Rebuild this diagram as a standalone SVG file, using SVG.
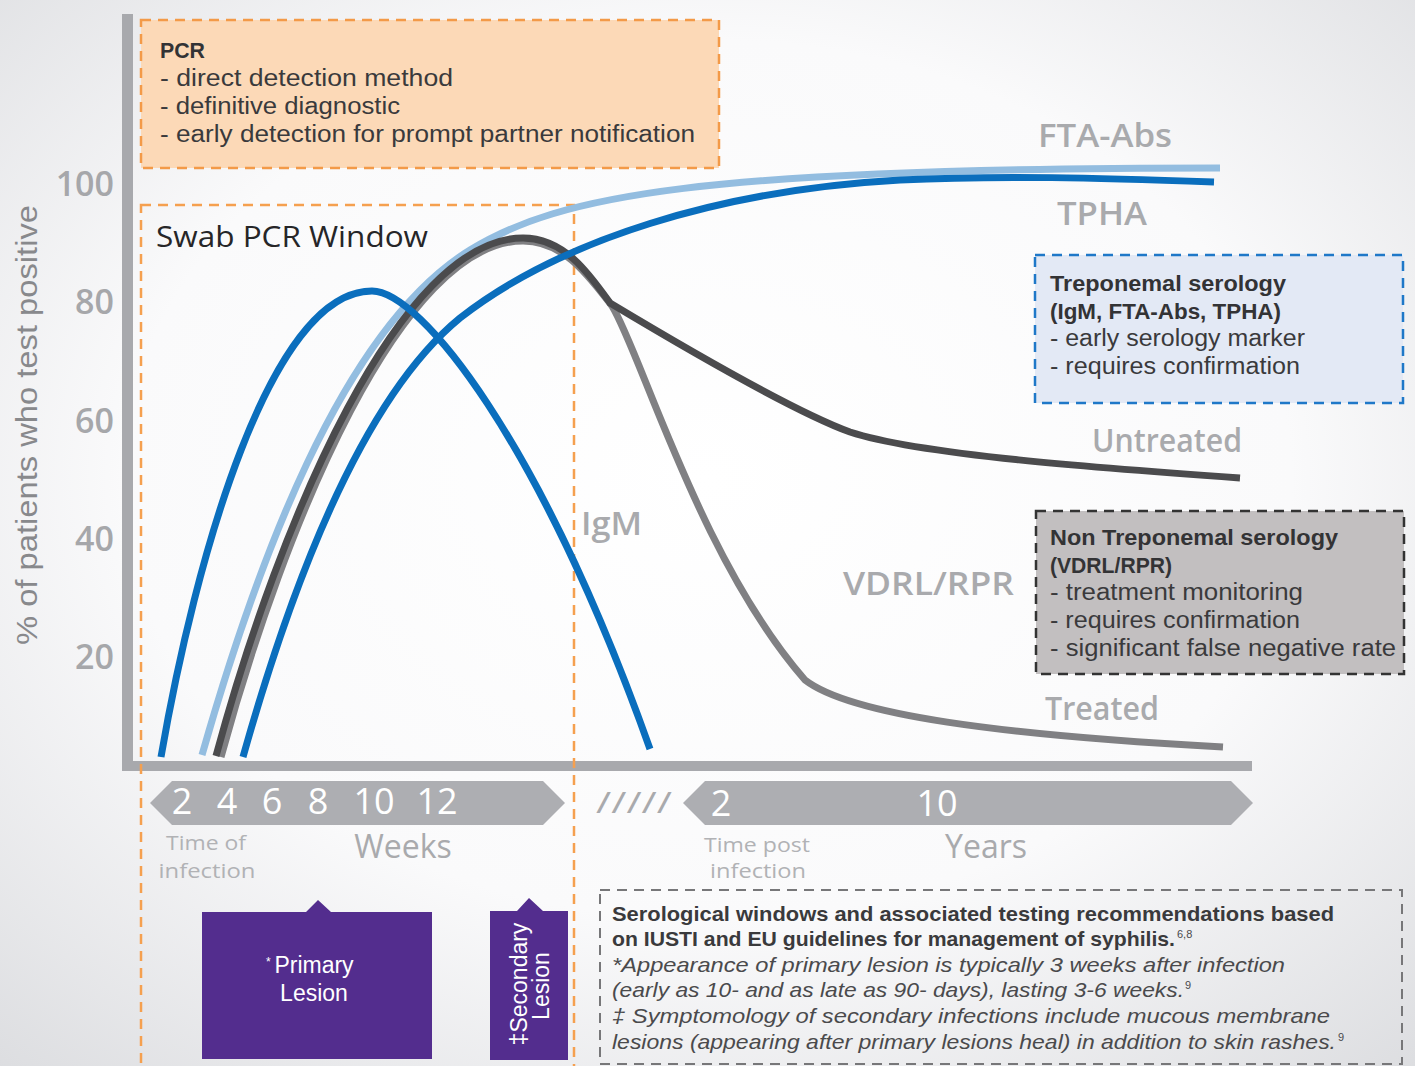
<svg xmlns="http://www.w3.org/2000/svg" width="1415" height="1066" viewBox="0 0 1415 1066">
<defs>
<radialGradient id="bg" cx="0.5" cy="0.45" r="0.75">
<stop offset="0" stop-color="#ffffff"/>
<stop offset="0.55" stop-color="#fafafb"/>
<stop offset="1" stop-color="#dcdde0"/>
</radialGradient>
<style>
.ax{fill:#a8a9ad}
.tick{font-family:'Open Sans','Liberation Sans',sans-serif;font-weight:600;font-size:34px;fill:#a6a7aa;text-anchor:end}
.lbl{font-family:'Open Sans','Liberation Sans',sans-serif;font-weight:600;font-size:33px;fill:#a9aaad}
.bx{font-family:'Liberation Sans','Open Sans',sans-serif;font-size:23px;fill:#3a3a3c}
.bxb{font-family:'Liberation Sans','Open Sans',sans-serif;font-size:22px;font-weight:bold;fill:#333335}
.wk{font-family:'Open Sans','Liberation Sans',sans-serif;font-size:36px;fill:#ffffff;text-anchor:middle}
.sub{font-family:'Open Sans','Liberation Sans',sans-serif;font-size:20px;fill:#b1b2b5;text-anchor:middle}
.big{font-family:'Open Sans','Liberation Sans',sans-serif;font-size:32px;fill:#a9aaad;text-anchor:middle}
.les{font-family:'Liberation Sans','Open Sans',sans-serif;font-size:23px;fill:#ffffff;text-anchor:middle}
.nt{font-family:'Liberation Sans','Open Sans',sans-serif;font-size:21px;fill:#3a3a3c}
.nti{font-family:'Liberation Sans','Open Sans',sans-serif;font-size:21px;font-style:italic;fill:#4a4a4c}
.sup{font-family:'Liberation Sans',sans-serif;font-size:11px;fill:#4a4a4c}
.crv{fill:none;stroke-width:7}
.odash{fill:none;stroke:#f5a04f;stroke-width:2.5;stroke-dasharray:10 7}
.purple{fill:#532d8e}
</style>
</defs>
<rect width="1415" height="1066" fill="url(#bg)"/>

<g id="axes">
<rect class="ax" x="122" y="14" width="11" height="757"/>
<rect class="ax" x="122" y="761" width="1130" height="10"/>
<text class="tick" x="114" y="196">100</text>
<text class="tick" x="114" y="314">80</text>
<text class="tick" x="114" y="433">60</text>
<text class="tick" x="114" y="551">40</text>
<text class="tick" x="114" y="669">20</text>
<text x="37" y="425" transform="rotate(-90 37 425)" text-anchor="middle" font-family="'Liberation Sans','Open Sans',sans-serif" font-size="29" fill="#88898c" textLength="440" lengthAdjust="spacingAndGlyphs">% of patients who test positive</text>
</g>

<g id="pcr-box">
<rect x="141" y="20" width="578" height="148" fill="#fcd9b7" stroke="#f39a48" stroke-width="2.5" stroke-dasharray="10 7"/>
<text class="bxb" x="160" y="58" textLength="45" lengthAdjust="spacingAndGlyphs">PCR</text>
<text class="bx" x="160" y="86" textLength="293" lengthAdjust="spacingAndGlyphs">- direct detection method</text>
<text class="bx" x="160" y="114" textLength="240" lengthAdjust="spacingAndGlyphs">- definitive diagnostic</text>
<text class="bx" x="160" y="142" textLength="535" lengthAdjust="spacingAndGlyphs">- early detection for prompt partner notification</text>
</g>

<g id="swab-window">
<rect x="141" y="205" width="433" height="880" class="odash"/>
<text x="156" y="247" font-family="'Open Sans','Liberation Sans',sans-serif" font-size="29" font-weight="500" fill="#262628" textLength="272" lengthAdjust="spacingAndGlyphs">Swab PCR Window</text>
</g>

<g id="curves">
<path class="crv" stroke="#93bde0" stroke-width="8" d="M202,755 C255,570 340,330 470,250 C560,195 700,168 1220,168"/>
<path class="crv" stroke="#808083" d="M221,757 C285,522 402,241 523,241 C565,241 590,278 612,306 C640,350 700,560 805,680 C850,715 1000,735 1223,747"/>
<path class="crv" stroke="#4b4b4d" stroke-width="5" d="M216,756 C280,520 400,238 523,238 C565,238 590,275 610,303 C680,345 790,410 850,432 C920,455 1100,468 1240,478"/>
<path class="crv" stroke="#0a6ebd" d="M161,757 C195,560 270,291 372,291 C420,291 540,440 650,749"/>
<path class="crv" stroke="#0a6ebd" d="M243,757 C290,590 360,400 460,318 C560,240 720,190 900,180 C1000,175 1100,178 1214,182"/>
</g>

<g id="curve-labels">
<text class="lbl" x="1038" y="147" textLength="134" lengthAdjust="spacingAndGlyphs">FTA-Abs</text>
<text class="lbl" x="1057" y="225" textLength="90" lengthAdjust="spacingAndGlyphs">TPHA</text>
<text class="lbl" x="1092" y="452" font-size="30" textLength="150" lengthAdjust="spacingAndGlyphs">Untreated</text>
<text class="lbl" x="581" y="535" textLength="61" lengthAdjust="spacingAndGlyphs">IgM</text>
<text class="lbl" x="843" y="595" textLength="171" lengthAdjust="spacingAndGlyphs">VDRL/RPR</text>
<text class="lbl" x="1045" y="720" font-size="30" textLength="114" lengthAdjust="spacingAndGlyphs">Treated</text>
</g>

<g id="treponemal-box">
<rect x="1035" y="255" width="368" height="148" fill="#e3e9f5" stroke="#1f78c8" stroke-width="2.5" stroke-dasharray="10 7"/>
<text class="bxb" x="1050" y="291" textLength="236" lengthAdjust="spacingAndGlyphs">Treponemal serology</text>
<text class="bxb" x="1050" y="319" textLength="231" lengthAdjust="spacingAndGlyphs">(IgM, FTA-Abs, TPHA)</text>
<text class="bx" x="1050" y="346" textLength="255" lengthAdjust="spacingAndGlyphs">- early serology marker</text>
<text class="bx" x="1050" y="374" textLength="250" lengthAdjust="spacingAndGlyphs">- requires confirmation</text>
</g>

<g id="non-treponemal-box">
<rect x="1036" y="511" width="368" height="163" fill="#c2bfc0" stroke="#333333" stroke-width="2.5" stroke-dasharray="10 7"/>
<text class="bxb" x="1050" y="545" textLength="288" lengthAdjust="spacingAndGlyphs">Non Treponemal serology</text>
<text class="bxb" x="1050" y="573" textLength="122" lengthAdjust="spacingAndGlyphs">(VDRL/RPR)</text>
<text class="bx" x="1050" y="600" textLength="253" lengthAdjust="spacingAndGlyphs">- treatment monitoring</text>
<text class="bx" x="1050" y="628" textLength="250" lengthAdjust="spacingAndGlyphs">- requires confirmation</text>
<text class="bx" x="1050" y="656" textLength="346" lengthAdjust="spacingAndGlyphs">- significant false negative rate</text>
</g>

<g id="weeks-timeline">
<polygon fill="#adaeb2" points="150,803 172,781 543,781 565,803 543,825 172,825"/>
<text class="wk" x="182" y="814">2</text>
<text class="wk" x="227" y="814">4</text>
<text class="wk" x="272" y="814">6</text>
<text class="wk" x="318" y="814">8</text>
<text class="wk" x="374" y="814">10</text>
<text class="wk" x="437" y="814">12</text>
<text class="sub" x="206" y="850" textLength="80" lengthAdjust="spacingAndGlyphs">Time of</text>
<text class="sub" x="207" y="878" textLength="97" lengthAdjust="spacingAndGlyphs">infection</text>
<text class="big" x="403" y="858">Weeks</text>
</g>

<g id="years-timeline">
<text x="596" y="813" font-family="'Open Sans','Liberation Sans',sans-serif" font-size="30" fill="#a9aaad" textLength="76" lengthAdjust="spacingAndGlyphs">/////</text>
<polygon fill="#adaeb2" points="683,803 705,781 1231,781 1253,803 1231,825 705,825"/>
<text class="wk" x="721" y="816">2</text>
<text class="wk" x="937" y="816">10</text>
<text class="sub" x="757" y="852" textLength="106" lengthAdjust="spacingAndGlyphs">Time post</text>
<text class="sub" x="758" y="878" textLength="96" lengthAdjust="spacingAndGlyphs">infection</text>
<text class="big" x="986" y="858">Years</text>
</g>

<g id="primary-lesion">
<polygon class="purple" points="202,912 306,912 318,900 331,912 432,912 432,1059 202,1059"/>
<text x="266" y="966" font-family="'Liberation Sans',sans-serif" font-size="12" fill="#ffffff">*</text>
<text class="les" x="314" y="973">Primary</text>
<text class="les" x="314" y="1001">Lesion</text>
</g>

<g id="secondary-lesion">
<polygon class="purple" points="490,911 517,911 529,898 543,911 568,911 568,1060 490,1060"/>
<text class="les" x="527" y="984" transform="rotate(-90 527 984)">‡Secondary</text>
<text class="les" x="549" y="986" transform="rotate(-90 549 986)">Lesion</text>
</g>

<g id="note-box">
<rect x="600" y="890" width="802" height="174" fill="none" stroke="#777779" stroke-width="2" stroke-dasharray="10 7"/>
<text class="nt" x="612" y="921" font-weight="bold" textLength="722" lengthAdjust="spacingAndGlyphs">Serological windows and associated testing recommendations based</text>
<text class="nt" x="612" y="946" font-weight="bold" textLength="563" lengthAdjust="spacingAndGlyphs">on IUSTI and EU guidelines for management of syphilis.</text>
<text class="sup" x="1177" y="938">6,8</text>
<text class="nti" x="612" y="972" textLength="673" lengthAdjust="spacingAndGlyphs">*Appearance of primary lesion is typically 3 weeks after infection</text>
<text class="nti" x="612" y="997" textLength="572" lengthAdjust="spacingAndGlyphs">(early as 10- and as late as 90- days), lasting 3-6 weeks.</text>
<text class="sup" x="1185" y="989">9</text>
<text class="nti" x="612" y="1023" textLength="718" lengthAdjust="spacingAndGlyphs">‡ Symptomology of secondary infections include mucous membrane</text>
<text class="nti" x="612" y="1049" textLength="724" lengthAdjust="spacingAndGlyphs">lesions (appearing after primary lesions heal) in addition to skin rashes.</text>
<text class="sup" x="1338" y="1041">9</text>
</g>
</svg>
